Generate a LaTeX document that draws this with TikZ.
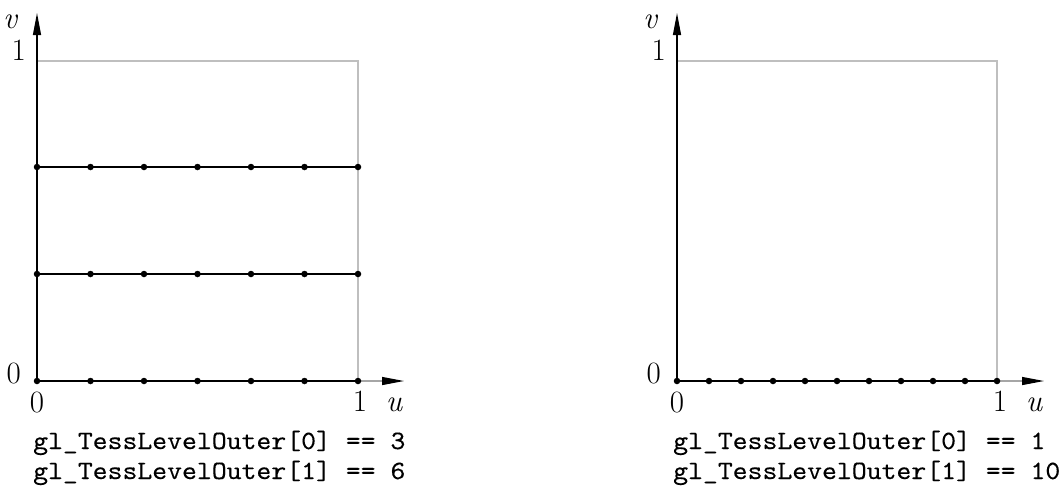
\documentclass[tikz,border=0pt]{standalone}
\usepackage{fontspec}
\newfontfamily\codefont{lmmono10-regular.otf}[FakeBold=0.25]
\usetikzlibrary{arrows.meta}
\begin{document}
\begin{tikzpicture}[x=1pt,y=-1pt,
  lab/.style={font=\fontsize{31}{34}\selectfont, inner sep=0pt},
  code/.style={font=\fontsize{26.5}{28}\codefont, inner sep=0pt, anchor=base west},
  dot/.style={circle, fill=black, inner sep=0pt, minimum size=6.5pt},
  sqedge/.style={gray!50, line width=1.2pt},
  yaxis/.style={black, line width=1.2pt, -{Triangle[length=22pt,width=8pt]}},
  xaxis/.style={gray!70, line width=1.2pt, -{Triangle[length=22pt,width=8pt,color=black]}},
  gridline/.style={black, line width=2.5pt}]
\useasboundingbox (0,0) rectangle (1064,491);

% ---------- left panel ----------
\coordinate (L-o) at (37,381);
\coordinate (L-yt) at (37,13);
\coordinate (L-xt) at (404,381);
\coordinate (L-tl) at (37,61);
\coordinate (L-tr) at (358,61);
\coordinate (L-br) at (358,381);
\draw[sqedge] (L-tl) -- (L-tr) -- (L-br);
\draw[xaxis] (L-o) -- (L-xt);
\draw[yaxis] (L-o) -- (L-yt);
\foreach \r/\yy in {0/381,1/274,2/167} {
  \foreach \k in {0,...,6}
    \node[dot] (L-\r-\k) at ({37+\k*321/6},\yy) {};
  \draw[gridline] (L-\r-0.center) -- (L-\r-6.center);
}
\node[lab, anchor=base] (L-v) at (10,28) {\itshape v};
\node[lab, anchor=base east] (L-1y) at (26,60) {1};
\node[lab, anchor=base east] (L-0y) at (21,383) {0};
\node[lab, anchor=base] (L-0x) at (37,412) {0};
\node[lab, anchor=base] (L-1x) at (360,411) {1};
\node[lab, anchor=base] (L-u) at (394,411) {\itshape u};
\node[code] (L-c0) at (33,449) {\scalebox{1.07}[1]{gl\_TessLevelOuter[0] == 3}};
\node[code] (L-c1) at (33,479) {\scalebox{1.07}[1]{gl\_TessLevelOuter[1] == 6}};

% ---------- right panel ----------
\coordinate (R-o) at (677,381);
\coordinate (R-yt) at (677,13);
\coordinate (R-xt) at (1044,381);
\coordinate (R-tl) at (677,61);
\coordinate (R-tr) at (997,61);
\coordinate (R-br) at (997,381);
\draw[sqedge] (R-tl) -- (R-tr) -- (R-br);
\draw[xaxis] (R-o) -- (R-xt);
\draw[yaxis] (R-o) -- (R-yt);
\foreach \k in {0,...,10}
  \node[dot] (R-0-\k) at ({677+\k*32},381) {};
\draw[gridline] (R-0-0.center) -- (R-0-10.center);
\node[lab, anchor=base] (R-v) at (650,28) {\itshape v};
\node[lab, anchor=base east] (R-1y) at (666,60) {1};
\node[lab, anchor=base east] (R-0y) at (661,383) {0};
\node[lab, anchor=base] (R-0x) at (677,412) {0};
\node[lab, anchor=base] (R-1x) at (1000,411) {1};
\node[lab, anchor=base] (R-u) at (1034,411) {\itshape u};
\node[code] (R-c0) at (673,449) {\scalebox{1.07}[1]{gl\_TessLevelOuter[0] == 1}};
\node[code] (R-c1) at (673,479) {\scalebox{1.07}[1]{gl\_TessLevelOuter[1] == 10}};
\end{tikzpicture}
\end{document}
